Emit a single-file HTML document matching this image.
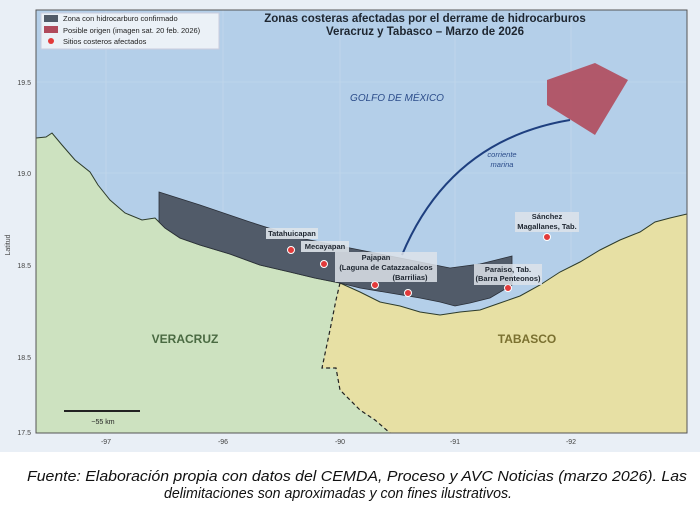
<!DOCTYPE html>
<html><head><meta charset="utf-8"><style>
body{margin:0;width:700px;height:508px;background:#fff;overflow:hidden;font-family:"Liberation Sans",sans-serif}
</style></head><body>
<svg width="700" height="508" viewBox="0 0 700 508" xmlns="http://www.w3.org/2000/svg" font-family="Liberation Sans, sans-serif">
<rect x="0" y="0" width="700" height="452" fill="#e9eff6"/>
<rect x="36" y="10" width="651" height="423" fill="#b4cfe9"/>
<g stroke="#c6d9ec" stroke-width="0.6">
<line x1="106" y1="10" x2="106" y2="433"/><line x1="223" y1="10" x2="223" y2="433"/><line x1="340" y1="10" x2="340" y2="433"/><line x1="455" y1="10" x2="455" y2="433"/><line x1="571" y1="10" x2="571" y2="433"/>
<line x1="36" y1="82" x2="687" y2="82"/><line x1="36" y1="173" x2="687" y2="173"/>
</g>
<path d="M36,138 L46,137 L52,133 L62,145 L75,160 L90,172 L98,185 L110,200 L125,213 L142,220 L155,218 L165,228 L180,238 L200,245 L230,254 L260,265 L290,272 L315,278 L340,283 L336,300 L330,330 L322,368 L336,368 L340,390 L360,410 L375,420 L390,433 L36,433 Z" fill="#cde2c0"/>
<path d="M340,283 L360,292 L380,302 L400,306 L420,312 L440,315 L460,312 L480,310 L500,303 L520,296 L540,285 L560,272 L580,262 L600,250 L620,240 L640,232 L655,222 L670,218 L687,214 L687,433 L390,433 L375,420 L360,410 L340,390 L336,368 L322,368 L330,330 L336,300 Z" fill="#e7e0a4"/>
<path d="M36,138 L46,137 L52,133 L62,145 L75,160 L90,172 L98,185 L110,200 L125,213 L142,220 L155,218 L165,228 L180,238 L200,245 L230,254 L260,265 L290,272 L315,278 L340,283 L360,292 L380,302 L400,306 L420,312 L440,315 L460,312 L480,310 L500,303 L520,296 L540,285 L560,272 L580,262 L600,250 L620,240 L640,232 L655,222 L670,218 L687,214" fill="none" stroke="#2d3b2a" stroke-width="1"/>
<path d="M340,283 L336,300 L330,330 L322,368 L336,368 L340,390 L360,410 L375,420 L390,433" fill="none" stroke="#222" stroke-width="1.2" stroke-dasharray="4,3"/>
<path d="M159,192 L200,205 L250,222 L300,238 L350,248 L400,258 L450,268 L480,264 L512,256 L512,285 L490,298 L470,303 L455,306 L440,302 L420,298 L390,293 L360,288 L340,283 L315,278 L290,272 L260,265 L230,254 L200,245 L180,238 L165,228 L159,222 Z" fill="#515b69" stroke="#2a2f38" stroke-width="0.8"/>
<path d="M547,80 L595,63 L628,80 L595,135 L547,105 Z" fill="#b04a5c" opacity="0.9"/>
<path d="M402,255 Q450,140 570,120" fill="none" stroke="#1e3f7f" stroke-width="2"/>
<text x="502" y="157" font-size="7.5" font-style="italic" fill="#2b4c8a" text-anchor="middle">corriente</text>
<text x="502" y="167" font-size="7.5" font-style="italic" fill="#2b4c8a" text-anchor="middle">marina</text>
<text x="397" y="101" font-size="10" font-style="italic" fill="#2b4c8a" text-anchor="middle">GOLFO DE MÉXICO</text>
<text x="425" y="22" font-size="11.5" font-weight="bold" fill="#1e2630" text-anchor="middle">Zonas costeras afectadas por el derrame de hidrocarburos</text>
<text x="425" y="35" font-size="11.5" font-weight="bold" fill="#1e2630" text-anchor="middle">Veracruz y Tabasco – Marzo de 2026</text>
<rect x="41" y="13" width="178" height="36" fill="#eef3f8" opacity="0.95" stroke="#ccd"/>
<rect x="44" y="15" width="14" height="7" fill="#515b69"/>
<text x="63" y="21" font-size="7.5" fill="#222">Zona con hidrocarburo confirmado</text>
<rect x="44" y="26" width="14" height="7" fill="#b04a5c"/>
<text x="63" y="33" font-size="7.5" fill="#222">Posible origen (imagen sat. 20 feb. 2026)</text>
<circle cx="51" cy="41" r="3" fill="#e23a3a"/>
<text x="63" y="44" font-size="7.5" fill="#222">Sitios costeros afectados</text>
<g fill="#e23a3a" stroke="#fff" stroke-width="1">
<circle cx="291" cy="250" r="3.5"/><circle cx="324" cy="264" r="3.5"/><circle cx="375" cy="285" r="3.5"/><circle cx="408" cy="293" r="3.5"/><circle cx="508" cy="288" r="3.5"/><circle cx="547" cy="237" r="3.5"/>
</g>
<g font-size="7.5" font-weight="bold" fill="#1e2630" text-anchor="middle">
<rect x="266" y="228" width="52" height="11" fill="#dde3ea" opacity="0.9"/><text x="292" y="236">Tatahuicapan</text>
<rect x="301" y="241" width="48" height="11" fill="#dde3ea" opacity="0.9"/><text x="325" y="249">Mecayapan</text>
<rect x="335" y="252" width="102" height="30" fill="#dde3ea" opacity="0.85"/>
<text x="376" y="260">Pajapan</text><text x="386" y="270">(Laguna de Catazzacalcos</text><text x="410" y="280">(Barrilias)</text>
<rect x="474" y="264" width="68" height="21" fill="#dde3ea" opacity="0.85"/>
<text x="508" y="272">Paraiso, Tab.</text><text x="508" y="281">(Barra Penteonos)</text>
<rect x="515" y="212" width="64" height="20" fill="#dde3ea" opacity="0.85"/>
<text x="547" y="219">Sánchez</text><text x="547" y="229">Magallanes, Tab.</text>
</g>
<text x="185" y="343" font-size="12" font-weight="bold" fill="#4a6a42" text-anchor="middle">VERACRUZ</text>
<text x="527" y="343" font-size="12" font-weight="bold" fill="#7a7030" text-anchor="middle">TABASCO</text>
<line x1="64" y1="411" x2="140" y2="411" stroke="#222" stroke-width="2"/>
<text x="103" y="424" font-size="7" fill="#222" text-anchor="middle">~55 km</text>
<rect x="36" y="10" width="651" height="423" fill="none" stroke="#555" stroke-width="1"/>
<g font-size="7" fill="#444" text-anchor="middle">
<text x="106" y="444">-97</text><text x="223" y="444">-96</text><text x="340" y="444">-90</text><text x="455" y="444">-91</text><text x="571" y="444">-92</text>
</g>
<g font-size="7" fill="#444" text-anchor="end">
<text x="31" y="85">19.5</text><text x="31" y="176">19.0</text><text x="31" y="268">18.5</text><text x="31" y="360">18.5</text><text x="31" y="435">17.5</text>
</g>
<text x="10" y="245" font-size="7" fill="#444" transform="rotate(-90 10 245)" text-anchor="middle">Latitud</text>
<text x="27" y="481" font-size="14.5" font-style="italic" fill="#111" textLength="660" lengthAdjust="spacingAndGlyphs">Fuente: Elaboración propia con datos del CEMDA, Proceso y AVC Noticias (marzo 2026). Las</text>
<text x="164" y="498" font-size="14.5" font-style="italic" fill="#111" textLength="348" lengthAdjust="spacingAndGlyphs">delimitaciones son aproximadas y con fines ilustrativos.</text>
</svg>
</body></html>
